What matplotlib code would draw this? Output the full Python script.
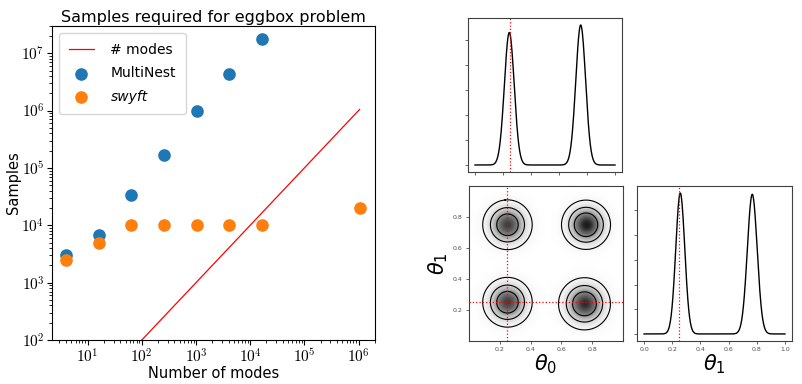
"""Eggbox benchmark: samples vs number of modes, plus the swyft corner plot."""

import numpy as np
import matplotlib
matplotlib.use("Agg")
import matplotlib.pyplot as plt
from matplotlib.ticker import FuncFormatter, MultipleLocator

plt.rcParams["mathtext.fontset"] = "cm"

# left panel: samples needed per number of modes
modes = [4, 16, 64, 256, 1024, 4096, 16384]
multinest_samples = [3.0e3, 6.8e3, 3.4e4, 1.7e5, 9.8e5, 4.3e6, 1.8e7]
swyft_modes = [4, 16, 64, 256, 1024, 4096, 16384, 1048576]
swyft_samples = [2.5e3, 5.0e3, 1.0e4, 1.0e4, 1.0e4, 1.0e4, 1.0e4, 2.0e4]
line_modes = [4, 1048576]  # "# modes" reference line, y = x

# right panel: marginal peaks (centre, height, width)
theta0_peaks = [0.245, 0.755]
theta0_heights = [5.3, 5.6]
theta0_widths = [0.035, 0.035]
theta1_peaks = [0.257, 0.768]
theta1_heights = [5.7, 5.65]
theta1_widths = [0.032, 0.035]

# 2-d posterior blobs
blob_x = [0.25, 0.76, 0.25, 0.75]
blob_y = [0.75, 0.75, 0.25, 0.24]
blob_weight = [0.9, 1.1, 0.9, 1.0]
blob_width = [0.058, 0.056, 0.058, 0.06]
contour_mass = [0.55, 0.85, 0.98]
true_value = 0.25


def peaks(x, centres, heights, widths):
    out = np.zeros_like(x)
    for c, h, w in zip(centres, heights, widths):
        out += h * np.exp(-0.5 * ((x - c) / w) ** 2)
    return out


def style_corner(ax):
    for s in ax.spines.values():
        s.set_linewidth(0.8)
        s.set_color("0.25")
    ax.tick_params(labelsize=4.5, length=2.5, width=0.6, pad=2, colors="0.3")


fig = plt.figure(figsize=(8.03, 3.84), dpi=100)

# ---- left panel ----
ax = fig.add_axes([0.0648, 0.1146, 0.402, 0.818])
ax.plot(line_modes, line_modes, color="red", lw=0.9, label="# modes")
ax.scatter(modes, multinest_samples, s=65, color="tab:blue", label="MultiNest", zorder=3)
ax.scatter(swyft_modes, swyft_samples, s=65, color="tab:orange", label="swyft", zorder=4)
ax.set_xscale("log")
ax.set_yscale("log")
ax.set_xlim(2.2, 2.0e6)
ax.set_ylim(1e2, 3.0e7)
fmt = FuncFormatter(lambda v, _: r"$10^{%d}$" % round(np.log10(v)))
ax.xaxis.set_major_formatter(fmt)
ax.yaxis.set_major_formatter(fmt)
ax.tick_params(labelsize=11, pad=2)
ax.set_xlabel("Number of modes", fontsize=10.5, labelpad=0)
ax.set_ylabel("Samples", fontsize=10.5, labelpad=0)
ax.set_title("Samples required for eggbox problem", fontsize=11.5, pad=3)
leg = ax.legend(loc="upper left", fontsize=10, scatterpoints=1, borderpad=0.7,
                labelspacing=0.7, handletextpad=1.2, handlelength=1.8)
leg.get_texts()[2].set_fontstyle("italic")

# ---- corner plot ----
grid = np.linspace(0.0, 1.0, 500)
theta_font = dict(fontsize=15, math_fontfamily="dejavusans")

ax_t = fig.add_axes([0.5828, 0.5521, 0.1918, 0.401])
ax_t.plot(grid, peaks(grid, theta0_peaks, theta0_heights, theta0_widths), color="black", lw=1)
ax_t.axvline(true_value, color="red", ls=":", lw=0.9)
ax_t.set_xlim(-0.05, 1.05)
ax_t.xaxis.set_major_locator(MultipleLocator(0.2))
ax_t.yaxis.set_major_locator(MultipleLocator(1))
ax_t.set_xticklabels([])
ax_t.set_yticklabels([])
style_corner(ax_t)

ax_r = fig.add_axes([0.7933, 0.112, 0.193, 0.4036])
ax_r.plot(grid, peaks(grid, theta1_peaks, theta1_heights, theta1_widths), color="black", lw=1)
ax_r.axvline(true_value, color="red", ls=":", lw=0.9)
ax_r.set_xlim(-0.05, 1.05)
ax_r.xaxis.set_major_locator(MultipleLocator(0.2))
ax_r.yaxis.set_major_locator(MultipleLocator(1))
ax_r.set_yticklabels([])
ax_r.set_xlabel(r"$\theta_1$", labelpad=0, **theta_font)
style_corner(ax_r)

ax_c = fig.add_axes([0.584, 0.112, 0.1918, 0.4036])
gx, gy = np.meshgrid(grid, grid)
dens = np.zeros_like(gx)
for bx, by, bw, bs in zip(blob_x, blob_y, blob_weight, blob_width):
    dens += bw * np.exp(-0.5 * ((gx - bx) ** 2 + (gy - by) ** 2) / bs ** 2)
shade = dens ** 0.6
ax_c.imshow(shade, extent=(0, 1, 0, 1), origin="lower", cmap="Greys",
            vmin=0, vmax=shade.max() * 1.1, aspect="auto")
flat = np.sort(dens.ravel())[::-1]
cum = np.cumsum(flat) / flat.sum()
levels = sorted(flat[np.searchsorted(cum, m)] for m in contour_mass)
ax_c.contour(gx, gy, dens, levels=levels, colors="black", linewidths=0.8)
ax_c.axvline(true_value, color="red", ls=":", lw=0.9)
ax_c.axhline(true_value, color="red", ls=":", lw=0.9)
ax_c.set_xlim(0, 1)
ax_c.set_ylim(0, 1)
ax_c.set_xticks([0.2, 0.4, 0.6, 0.8])
ax_c.set_yticks([0.2, 0.4, 0.6, 0.8])
ax_c.set_xlabel(r"$\theta_0$", labelpad=0, **theta_font)
ax_c.set_ylabel(r"$\theta_1$", labelpad=2, **theta_font)
style_corner(ax_c)

fig.savefig("out.png", dpi=100)
